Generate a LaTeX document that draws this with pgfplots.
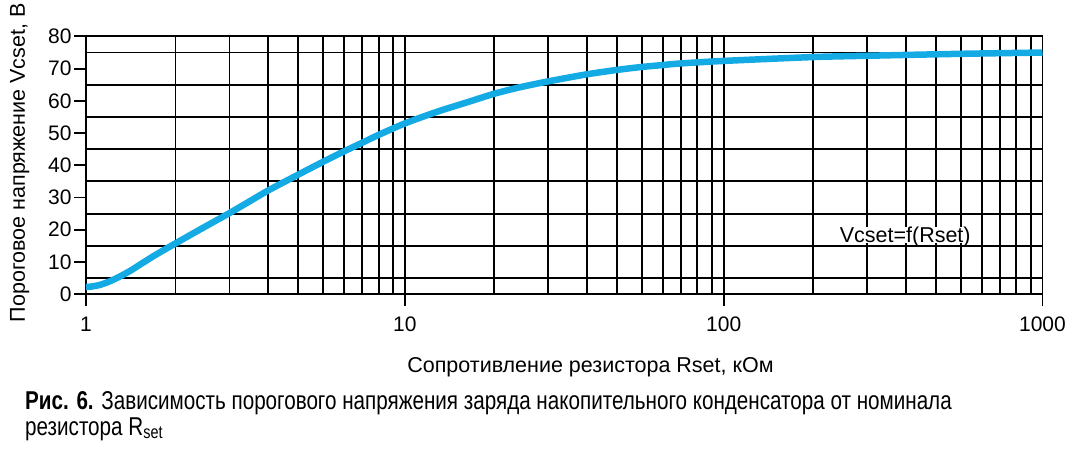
\documentclass[border=0pt]{standalone}
\usepackage{fontspec}
\setmainfont{Liberation Sans}
\newfontfamily\capfont[FakeStretch=0.8]{Liberation Sans}
\usepackage{pgfplots}
\pgfplotsset{compat=1.18}
\definecolor{curve}{RGB}{20,170,228}

\pgfplotstableread{
x y
1 2.2
1.047 2.4
1.109 2.9
1.189 4.0
1.279 5.5
1.380 7.3
1.479 9.2
1.660 12.3
1.905 15.7
2.291 20.2
2.80 25.0
3.31 29.2
3.73 32.2
4.61 37.0
5.52 41.0
6.41 44.2
7.35 47.0
8.26 49.4
10 53.0
12.6 56.6
15.85 59.7
19.05 62.2
22.9 64.2
28 66.0
37 68.2
46.2 69.6
55 70.5
64.1 71.1
72.8 71.6
100 72.4
190.5 73.6
282 74.0
550 74.6
1000 75.0
}\curvedata

\begin{document}
\begin{tikzpicture}
\begin{axis}[
  at={(0pt,0pt)}, anchor=south west,
  scale only axis, width=956.5pt, height=257.7pt,
  xmode=log, log basis x=10,
  xmin=1, xmax=1000, ymin=0, ymax=80,
  xtick={1,10,100,1000}, xticklabels={1,10,100,1000},
  minor xtick={1.9091,2.8182,3.7273,4.6364,5.5455,6.4545,7.3636,8.2727,9.1818,
    19.091,28.182,37.273,46.364,55.455,64.545,73.636,82.727,91.818,
    190.91,281.82,372.73,463.64,554.55,645.45,736.36,827.27,918.18},
  ytick={0,10,...,80},
  minor ytick={5,15,...,75},
  xmajorgrids=true, xminorgrids=true, yminorgrids=true, ymajorgrids=false,
  tick align=outside, major tick length=12pt, minor tick length=0pt,
  xtick pos=bottom, ytick pos=left,
  axis line style={line width=1.9pt, black},
  major grid style={line width=1.9pt, black},
  minor grid style={line width=1.9pt, black},
  every tick/.style={line width=1.9pt, black},
  /pgf/number format/assume math mode=true,
  tick label style={font=\fontsize{21}{22}\selectfont},
  xticklabel style={yshift=-7pt},
  yticklabel style={xshift=1pt},
  label style={font=\fontsize{21.5}{22}\selectfont},
  xlabel={Сопротивление резистора Rset, кОм},
  ylabel={Пороговое напряжение Vcset, В},
  xlabel style={at={(axis description cs:0.5274,-0.3038)}, anchor=base},
  ylabel style={at={(axis description cs:-0.0638,0.510)}, anchor=base},
]
\addplot[curve, line width=6.5pt, smooth, tension=0.4] table[x=x,y=y] {\curvedata};
\node[fill=white, inner xsep=1.5pt, inner ysep=0.5pt, text depth=0pt, anchor=base west, font=\fontsize{21.5}{22}\selectfont]
  at (axis cs:228.5,15.9) {Vcset=f(Rset)};
\end{axis}
\node[anchor=base west, inner sep=0pt, font=\capfont\fontsize{25.8}{27}\selectfont] at (-61pt,-115pt)
  {\textbf{Рис. 6.} Зависимость порогового напряжения заряда накопительного конденсатора от номинала};
\node[anchor=base west, inner sep=0pt, font=\capfont\fontsize{25.8}{27}\selectfont] at (-61pt,-141pt)
  {резистора R\textsubscript{set}};
\path[use as bounding box] (-86pt,-175pt) rectangle (991pt,290pt);
\end{tikzpicture}
\end{document}
